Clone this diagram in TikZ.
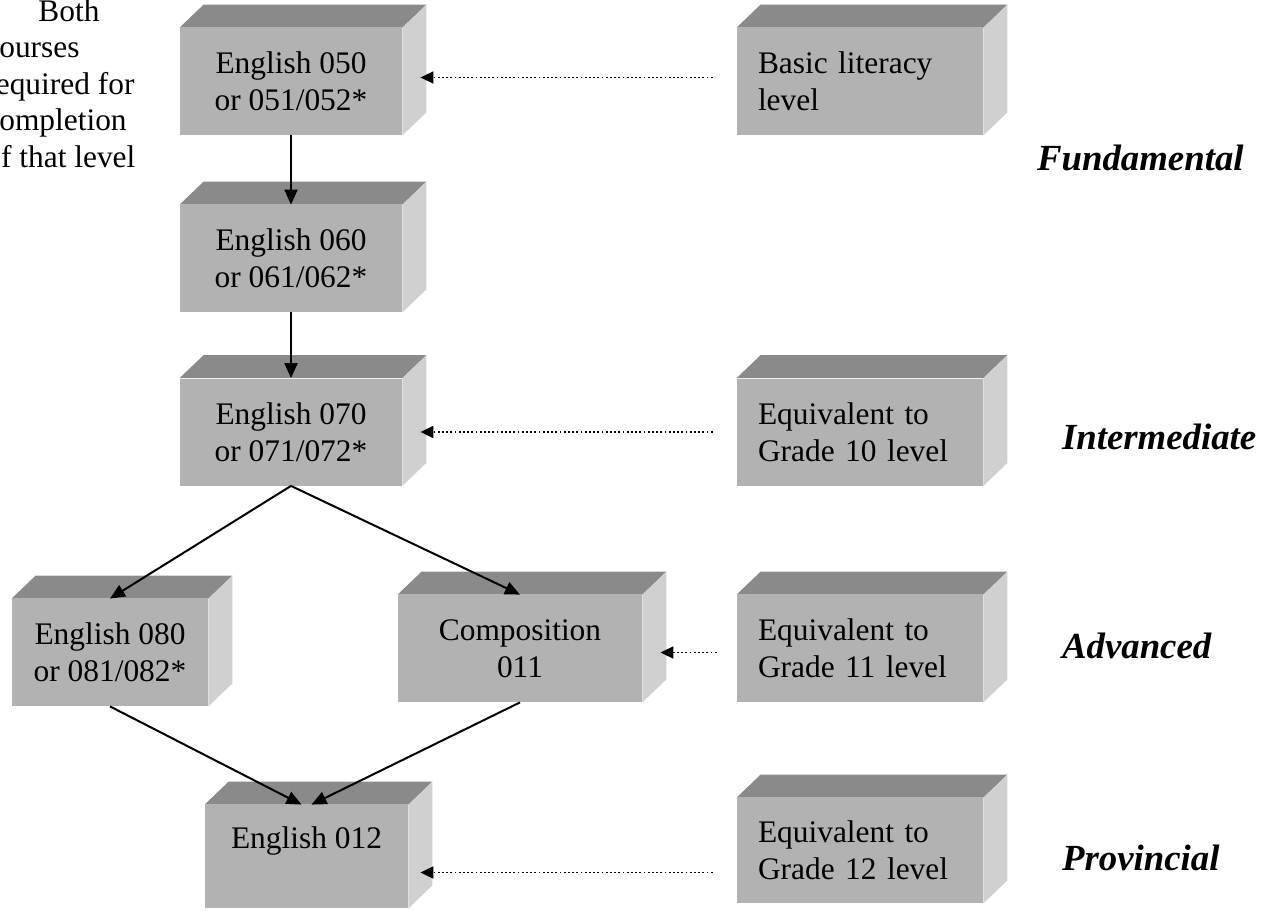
\documentclass[tikz,border=0pt]{standalone}
\usepackage{fontspec}
\setmainfont{Liberation Serif}
\usepackage{tikz}
\usetikzlibrary{arrows.meta,calc}

\definecolor{topgray}{RGB}{138,138,138}
\definecolor{frontgray}{RGB}{178,178,178}
\definecolor{sidegray}{RGB}{208,208,208}

\begin{document}
\begin{tikzpicture}
			[
				x=0.5pt, y=-0.5pt,
				crate/.style={fill=frontgray, inner sep=0pt, minimum height=53.5pt,
					font=\fontsize{15.7}{18.5}\selectfont},
				course/.style={crate, minimum width=111pt, align=center},
				level/.style={crate, minimum width=123pt, text width=102pt, align=left},
				band/.style={font=\fontsize{18.4}{22}\selectfont\bfseries\itshape, anchor=base west},
				arrow/.style={-{Triangle[length=7.5pt,width=6.5pt]}, line width=1pt},
				dotarrow/.style={-{Triangle[length=6.5pt,width=6pt]}, line width=0.9pt,
					dash pattern=on 0.9pt off 1.2pt}
			]
			\useasboundingbox (0,0) rectangle (1276,911);
			\clip (0,0) rectangle (1276,911);

			% note at the top left
			\node[anchor=north west, inner sep=0pt, align=left,
				font=\fontsize{15.7}{18.3}\selectfont] (note) at (-15,-1)
				{\hspace*{26.5pt}Both\\courses\\required for\\completion\\of that level};

			% courses
			\node[course] (e050) at ( 291, 81.5) {English 050\\or 051/052*};
			\node[course] (e060) at ( 291,258.5) {English 060\\or 061/062*};
			\node[course] (e070) at ( 291,432  ) {English 070\\or 071/072*};
			\node[course,minimum width=98pt] (e080) at ( 110,652.5) {English 080\\or 081/082*};
			\node[course,minimum width=122pt] (comp) at ( 520,648.5) {Composition\\011};
			\node[course,minimum width=101.5pt,minimum height=51.5pt] (e012) at ( 306.5,856.5) {English 012\\~};

			% levels
			\node[level] (basic)   at ( 860, 81.5) {Basic literacy\\level};
			\node[level] (grade10) at ( 860,432  ) {Equivalent to\\Grade 10 level};
			\node[level] (grade11) at ( 860,648.5) {Equivalent to\\Grade 11 level};
			\node[level,minimum height=52.5pt] (grade12) at ( 860,850.5) {Equivalent to\\Grade 12 level};

			% band names
			\node[band] (fund)  at (1030,170) {Fundamental};
			\node[band] (inter) at (1055,449) {Intermediate};
			\node[band] (adv)   at (1055,658) {Advanced};
			\node[band] (prov)  at (1055,870) {Provincial};

			% top and side faces
			\foreach \b in {e050,e060,e070,e080,comp,e012,basic,grade10,grade11,grade12}
			{
				\fill[topgray] (\b.north west) -- ++(12pt,11.5pt)
					-- ($(\b.north east)+(12pt,11.5pt)$) -- (\b.north east) -- cycle;
				\fill[sidegray] (\b.north east) -- ++(12pt,11.5pt)
					-- ($(\b.south east)+(12pt,11.5pt)$) -- (\b.south east) -- cycle;
			}

			% course paths
			\foreach \from/\to in {e050/e060,e060/e070}
			\draw[arrow] (\from) -- (\to);

			\draw[arrow] (e070.south) -- (e080.north);
			\draw[arrow] (e070.south) -- (comp.north);
			\draw[arrow] (e080.south) -- ([xshift=-2.5pt]e012.north);
			\draw[arrow] (comp.south) -- ([xshift=2.5pt]e012.north);

			% level equivalents
			\foreach \from/\to/\dy/\gap/\off in {basic/e050/2/9/12,grade10/e070/0/9/12,grade11/comp/-2/9/10,grade12/e012/-11/6/12}
			\draw[dotarrow] ($(\from.west)+(-\off pt,\dy pt)$) -- ($(\from.west -| \to.east)+(\gap pt,\dy pt)$);

		\end{tikzpicture}
\end{document}
